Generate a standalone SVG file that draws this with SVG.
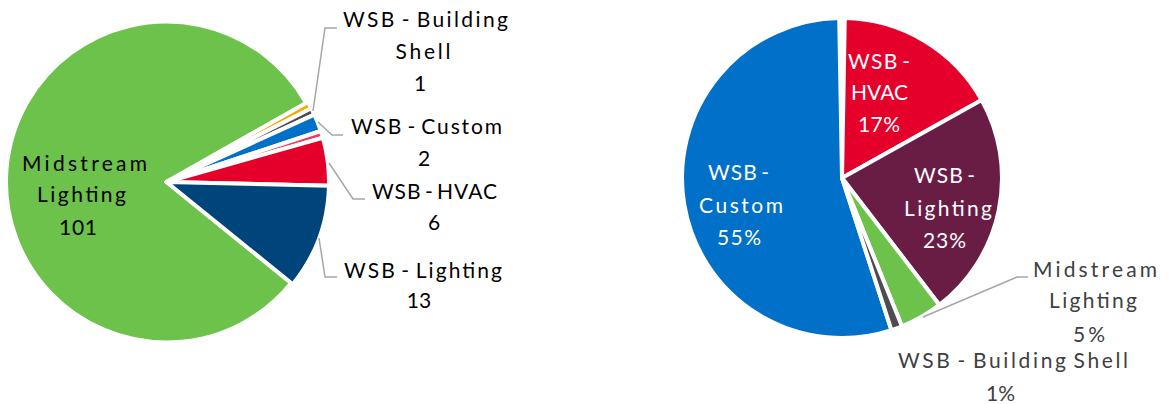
<svg xmlns="http://www.w3.org/2000/svg" width="1170" height="404" viewBox="0 0 1170 404">
<style>
.s{stroke:#ffffff;stroke-width:4;stroke-linejoin:round}
.t{font-family:Lato,"Liberation Sans",sans-serif;font-size:21px;text-anchor:middle;word-spacing:-3px}
.k{fill:#000000}
.w{fill:#ffffff}
.g{fill:#404040}
.ld{fill:none;stroke:#a6a6a6;stroke-width:1.5}
</style>
<rect width="1170" height="404" fill="#ffffff"/>
<g id="left-pie">
<g id="l-midstream">
<path class="s" fill="#6cc24a" d="M166.5,182 L291.23,283.0 A160.5,160.5 0 1 1 306.20,102.97 Z"/>
<text class="t k" x="84.5" y="170.5" textLength="125" lengthAdjust="spacing">Midstream</text>
<text class="t k" x="81.5" y="202" textLength="89" lengthAdjust="spacing">Lighting</text>
<text class="t k" x="78" y="234.5" textLength="38" lengthAdjust="spacing">101</text>
</g>
<g id="l-orange"><path class="s" fill="#f5a800" d="M166.5,182 L307.94,101.98 A162.5,162.5 0 0 1 311.29,108.22 Z"/></g>
<g id="l-shell"><path class="s" fill="#4d4d4f" d="M166.5,182 L311.29,108.22 A162.5,162.5 0 0 1 314.38,114.61 Z"/></g>
<g id="l-custom"><path class="s" fill="#0070c8" d="M166.5,182 L314.38,114.61 A162.5,162.5 0 0 1 320.78,130.98 Z"/></g>
<g id="l-pink"><path class="s" fill="#f5365c" d="M166.5,182 L320.78,130.98 A162.5,162.5 0 0 1 322.86,137.75 Z"/></g>
<g id="l-hvac"><path class="s" fill="#e4002b" d="M166.5,182 L322.86,137.75 A162.5,162.5 0 0 1 328.96,185.69 Z"/></g>
<g id="l-lighting"><path class="s" fill="#00447c" d="M166.5,182 L328.96,185.69 A162.5,162.5 0 0 1 292.78,284.26 Z"/></g>
</g>
<g id="left-labels">
<g id="lbl-shell">
<text class="t k" x="425.5" y="27" textLength="165" lengthAdjust="spacing">WSB - Building</text>
<text class="t k" x="423" y="58.5" textLength="55" lengthAdjust="spacing">Shell</text>
<text class="t k" x="420" y="90.5">1</text>
</g>
<g id="lbl-custom">
<text class="t k" x="426.5" y="133.5" textLength="151" lengthAdjust="spacing">WSB - Custom</text>
<text class="t k" x="424" y="165.5">2</text>
</g>
<g id="lbl-hvac">
<text class="t k" x="434.5" y="198.5" textLength="125" lengthAdjust="spacing">WSB - HVAC</text>
<text class="t k" x="434" y="230">6</text>
</g>
<g id="lbl-lighting">
<text class="t k" x="423" y="277.5" textLength="158" lengthAdjust="spacing">WSB - Lighting</text>
<text class="t k" x="419" y="308">13</text>
</g>
</g>
<g id="right-pie">
<g id="r-custom">
<path class="s" fill="#0070c8" d="M842,178 L891.44,330.17 A160,160 0 1 1 839.21,18.02 Z"/>
<text class="t w" x="738.5" y="180" textLength="61" lengthAdjust="spacing">WSB -</text>
<text class="t w" x="741" y="213" textLength="84" lengthAdjust="spacing">Custom</text>
<text class="t w" x="739" y="244.5" textLength="44" lengthAdjust="spacing">55%</text>
</g>
<g id="r-hvac">
<path class="s" fill="#e4002b" d="M842,178 L844.79,18.02 A160,160 0 0 1 981.66,99.94 Z"/>
<text class="t w" x="879" y="68.5" textLength="62" lengthAdjust="spacing">WSB -</text>
<text class="t w" x="879.5" y="100" textLength="57" lengthAdjust="spacing">HVAC</text>
<text class="t w" x="879" y="131.5" textLength="42" lengthAdjust="spacing">17%</text>
</g>
<g id="r-lighting">
<path class="s" fill="#6a1d44" d="M842,178 L981.66,99.94 A160,160 0 0 1 939.41,304.94 Z"/>
<text class="t w" x="944.5" y="182.5" textLength="61" lengthAdjust="spacing">WSB -</text>
<text class="t w" x="948" y="216" textLength="88" lengthAdjust="spacing">Lighting</text>
<text class="t w" x="944.5" y="248" textLength="43" lengthAdjust="spacing">23%</text>
</g>
<g id="r-midstream"><path class="s" fill="#6cc24a" d="M842,178 L939.41,304.94 A160,160 0 0 1 901.94,326.35 Z"/></g>
<g id="r-shell"><path class="s" fill="#4d4d4f" d="M842,178 L901.94,326.35 A160,160 0 0 1 891.44,330.17 Z"/></g>
</g>
<g id="right-labels">
<g id="lbl-r-midstream">
<text class="t g" x="1095" y="276.5" textLength="124" lengthAdjust="spacing">Midstream</text>
<text class="t g" x="1093" y="307.5" textLength="88" lengthAdjust="spacing">Lighting</text>
<text class="t g" x="1089" y="341.5" textLength="32" lengthAdjust="spacing">5%</text>
</g>
<g id="lbl-r-shell">
<text class="t g" x="1013" y="368" textLength="230" lengthAdjust="spacing">WSB - Building Shell</text>
<text class="t g" x="1000.5" y="401" textLength="29" lengthAdjust="spacing">1%</text>
</g>
</g>
<g id="connectors">
<polyline class="ld" points="313,111 325,28 337,28"/>
<polyline class="ld" points="318,122 332,135 343,135"/>
<polyline class="ld" points="329,163 353,199 365,199"/>
<polyline class="ld" points="319,238 325,277 337,277"/>
<polyline class="ld" points="923,317 1017,277 1028,277"/>
</g>
</svg>
